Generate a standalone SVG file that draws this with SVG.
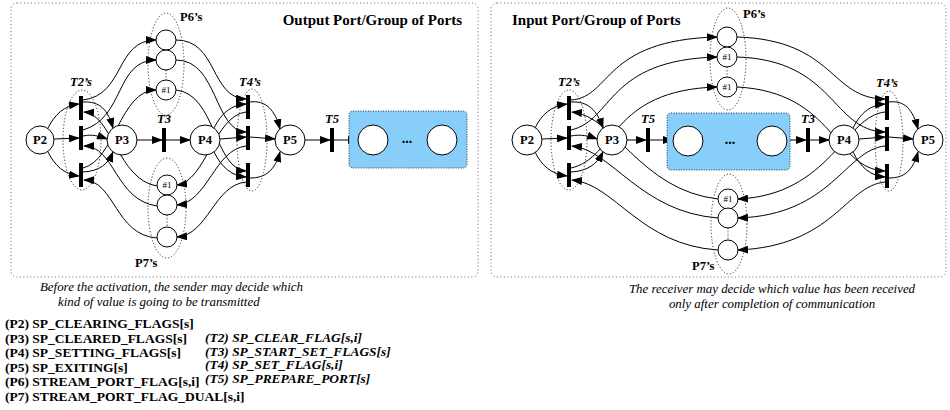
<svg xmlns="http://www.w3.org/2000/svg" width="950" height="410" viewBox="0 0 950 410">
<style>
.panel{fill:none;stroke:#666;stroke-width:1;stroke-dasharray:1,2.5}
.grp{fill:none;stroke:#333;stroke-width:1;stroke-dasharray:1.2,2}
.pl{fill:#fff;stroke:#000;stroke-width:1}
.bar{fill:#000}
.arc{fill:none;stroke:#000;stroke-width:1;marker-end:url(#ah)}
.box{fill:#87CEFA;stroke:#333;stroke-width:1;stroke-dasharray:1,1.5}
text{font-family:"Liberation Serif","Times New Roman",serif;fill:#000}
.pn{font-size:12.5px;font-weight:bold;text-anchor:middle}
.h1{font-size:9px;text-anchor:middle}
.tn{font-size:12.5px;font-weight:bold;font-style:italic;text-anchor:middle}
.gl{font-size:12.5px;font-weight:bold}
.ttl{font-size:15px;font-weight:bold}
.cap{font-size:12.9px;font-style:italic}
.lp{font-size:13.5px;font-weight:bold}
.lt{font-size:13.4px;font-weight:bold;font-style:italic}
.dots{font-size:14px;font-weight:bold;text-anchor:middle}
</style>
<defs>
<marker id="ah" markerUnits="userSpaceOnUse" markerWidth="11" markerHeight="8" refX="10" refY="4" orient="auto">
<path d="M0,0 L11,4 L0,8 z" fill="#000"/>
</marker>
</defs>

<rect class="panel" x="11" y="3" width="467" height="274" rx="6"/>
<rect class="panel" x="491" y="3" width="455" height="274" rx="6"/>
<text class="ttl" x="462" y="25" text-anchor="end">Output Port/Group of Ports</text>
<text class="ttl" x="512" y="25">Input Port/Group of Ports</text>

<!-- ===== LEFT NET (Output) ===== -->
<g id="connectors-left">
<path class="arc" d="M48,128 C55,114 64,106 79,104"/>
<path class="arc" d="M54,139 L79,138"/>
<path class="arc" d="M48,152 C55,166 64,174 79,176"/>
<path class="arc" d="M83,102 C100,101 108,110 113,128"/>
<path class="arc" d="M83,136 C92,134 99,136 107,139"/>
<path class="arc" d="M83,172 C100,171 108,164 113,152"/>
<path class="arc" d="M83,100 C125,95 115,40 156,40"/>
<path class="arc" d="M83,130 C125,118 115,60 156,60"/>
<path class="arc" d="M83,168 C115,160 120,90 156,90"/>
<path class="arc" d="M157,186 C118,180 112,114 84,112"/>
<path class="arc" d="M157,206 C115,200 115,146 84,146"/>
<path class="arc" d="M157,238 C115,235 115,181 84,180"/>
<path class="arc" d="M137,140 L162,140"/>
<path class="arc" d="M166,140 L190,140"/>
<path class="arc" d="M214,128 C222,112 232,105 246,104"/>
<path class="arc" d="M220,139 L246,137"/>
<path class="arc" d="M214,152 C222,168 232,176 246,177"/>
<path class="arc" d="M176,40 C218,40 210,98 246,99"/>
<path class="arc" d="M176,60 C218,60 214,131 246,132"/>
<path class="arc" d="M176,90 C216,94 214,169 246,171"/>
<path class="arc" d="M246,112 C214,116 206,181 177,185"/>
<path class="arc" d="M246,146 C214,150 208,202 177,205"/>
<path class="arc" d="M246,182 C214,185 208,235 177,237"/>
<path class="arc" d="M250,102 C266,100 275,110 280,129"/>
<path class="arc" d="M250,137 L275,139"/>
<path class="arc" d="M250,178 C266,178 275,170 280,152"/>
<path class="arc" d="M305,140 L330,140"/>
<path class="arc" d="M334,140 L358,140"/>
</g>

<g id="T2s-left">
<ellipse class="grp" cx="82" cy="140" rx="19" ry="50"/>
<rect class="bar" x="79" y="96" width="4" height="24"/>
<rect class="bar" x="79" y="126" width="4" height="24"/>
<rect class="bar" x="79" y="163" width="4" height="24"/>
<text class="tn" x="81" y="86">T2’s</text>
</g>
<g id="T4s-left">
<ellipse class="grp" cx="252" cy="140" rx="15" ry="51"/>
<rect class="bar" x="246" y="95" width="4" height="24"/>
<rect class="bar" x="246" y="126" width="4" height="24"/>
<rect class="bar" x="246" y="163" width="4" height="24"/>
<text class="tn" x="250" y="86">T4’s</text>
</g>
<g id="P2-left"><circle class="pl" cx="40" cy="140" r="14"/><text class="pn" x="40" y="144">P2</text></g>
<g id="P3-left"><circle class="pl" cx="122" cy="140" r="15"/><text class="pn" x="122" y="144">P3</text></g>
<g id="T3-left"><rect class="bar" x="162" y="128" width="4" height="24"/><text class="tn" x="164" y="123">T3</text></g>
<g id="P4-left"><circle class="pl" cx="205" cy="140" r="15"/><text class="pn" x="205" y="144">P4</text></g>
<g id="P5-left"><circle class="pl" cx="290" cy="140" r="15"/><text class="pn" x="290" y="144">P5</text></g>
<g id="T5-left"><rect class="bar" x="330" y="128" width="4" height="24"/><text class="tn" x="332" y="123">T5</text></g>
<g id="port-left">
<rect class="box" x="349" y="111" width="118" height="57" rx="4"/>
<circle class="pl" cx="373" cy="140" r="15"/>
<circle class="pl" cx="442" cy="140" r="15"/>
<text class="dots" x="407" y="143">...</text>
</g>
<g id="P6s-left">
<ellipse class="grp" cx="166" cy="64" rx="18" ry="51"/>
<line class="grp" x1="166" y1="70" x2="166" y2="80"/>
<circle class="pl" cx="166" cy="40" r="10"/>
<circle class="pl" cx="166" cy="60" r="10"/>
<circle class="pl" cx="166" cy="90" r="10"/><text class="h1" x="166" y="93">#1</text>
<text class="gl" x="180" y="21">P6’s</text>
</g>
<g id="P7s-left">
<ellipse class="grp" cx="167" cy="208" rx="19" ry="50"/>
<line class="grp" x1="167" y1="215" x2="167" y2="227"/>
<circle class="pl" cx="167" cy="185" r="10"/><text class="h1" x="167" y="188">#1</text>
<circle class="pl" cx="167" cy="205" r="10"/>
<circle class="pl" cx="167" cy="237" r="10"/>
<text class="gl" x="135" y="267">P7’s</text>
</g>

<!-- ===== RIGHT NET (Input) ===== -->
<g id="connectors-right">
<path class="arc" d="M535,128 C542,114 551,106 567,104"/>
<path class="arc" d="M542,139 L567,138"/>
<path class="arc" d="M535,152 C542,166 551,174 567,176"/>
<path class="arc" d="M571,102 C588,101 597,110 603,128"/>
<path class="arc" d="M571,136 C581,134 589,136 597,139"/>
<path class="arc" d="M571,172 C588,171 597,164 603,152"/>
<path class="arc" d="M571,100 C612,97 602,40 717,37"/>
<path class="arc" d="M571,130 C614,120 606,60 717,57"/>
<path class="arc" d="M571,168 C616,158 610,90 717,87"/>
<path class="arc" d="M718,199 C640,190 615,116 572,112"/>
<path class="arc" d="M718,218 C640,212 612,150 572,146"/>
<path class="arc" d="M718,250 C640,245 615,184 572,180"/>
<path class="arc" d="M627,140 L646,140"/>
<path class="arc" d="M650,140 L673,140"/>
<path class="arc" d="M787,140 L806,140"/>
<path class="arc" d="M810,140 L829,140"/>
<path class="arc" d="M853,128 C861,112 871,105 885,104"/>
<path class="arc" d="M859,139 L885,137"/>
<path class="arc" d="M853,152 C861,168 871,176 885,177"/>
<path class="arc" d="M737,37 C835,40 830,99 885,99"/>
<path class="arc" d="M737,57 C835,60 832,131 885,132"/>
<path class="arc" d="M737,87 C835,92 834,169 885,171"/>
<path class="arc" d="M885,112 C845,116 830,195 738,199"/>
<path class="arc" d="M885,146 C845,150 832,215 738,218"/>
<path class="arc" d="M885,182 C845,186 834,246 738,250"/>
<path class="arc" d="M889,102 C905,100 913,110 918,129"/>
<path class="arc" d="M889,137 L913,139"/>
<path class="arc" d="M889,178 C905,178 913,170 918,152"/>
</g>

<g id="T2s-right">
<ellipse class="grp" cx="569" cy="140" rx="18" ry="50"/>
<rect class="bar" x="567" y="96" width="4" height="24"/>
<rect class="bar" x="567" y="126" width="4" height="24"/>
<rect class="bar" x="567" y="163" width="4" height="24"/>
<text class="tn" x="569" y="86">T2’s</text>
</g>
<g id="T4s-right">
<ellipse class="grp" cx="889" cy="141" rx="14" ry="50"/>
<rect class="bar" x="885" y="96" width="4" height="24"/>
<rect class="bar" x="885" y="127" width="4" height="24"/>
<rect class="bar" x="885" y="164" width="4" height="24"/>
<text class="tn" x="887" y="87">T4’s</text>
</g>
<g id="P2-right"><circle class="pl" cx="527" cy="140" r="15"/><text class="pn" x="527" y="144">P2</text></g>
<g id="P3-right"><circle class="pl" cx="612" cy="140" r="15"/><text class="pn" x="612" y="144">P3</text></g>
<g id="T5-right"><rect class="bar" x="646" y="128" width="4" height="24"/><text class="tn" x="648" y="123">T5</text></g>
<g id="port-right">
<rect class="box" x="667" y="113" width="123" height="57" rx="4"/>
<circle class="pl" cx="688" cy="141" r="15"/>
<circle class="pl" cx="772" cy="141" r="15"/>
<text class="dots" x="730" y="144">...</text>
</g>
<g id="T3-right"><rect class="bar" x="806" y="128" width="4" height="24"/><text class="tn" x="808" y="123">T3</text></g>
<g id="P4-right"><circle class="pl" cx="844" cy="140" r="15"/><text class="pn" x="844" y="144">P4</text></g>
<g id="P5-right"><circle class="pl" cx="928" cy="140" r="15"/><text class="pn" x="928" y="144">P5</text></g>
<g id="P6s-right">
<ellipse class="grp" cx="728" cy="59" rx="18" ry="51"/>
<line class="grp" x1="727" y1="67" x2="727" y2="77"/>
<circle class="pl" cx="727" cy="37" r="10"/>
<circle class="pl" cx="727" cy="57" r="10"/><text class="h1" x="727" y="60">#1</text>
<circle class="pl" cx="727" cy="87" r="10"/><text class="h1" x="727" y="90">#1</text>
<text class="gl" x="743" y="18">P6’s</text>
</g>
<g id="P7s-right">
<ellipse class="grp" cx="729" cy="224" rx="18" ry="50"/>
<line class="grp" x1="728" y1="228" x2="728" y2="240"/>
<circle class="pl" cx="728" cy="199" r="10"/><text class="h1" x="728" y="202">#1</text>
<circle class="pl" cx="728" cy="218" r="10"/>
<circle class="pl" cx="728" cy="250" r="10"/>
<text class="gl" x="692" y="270">P7’s</text>
</g>

<!-- captions -->
<text class="cap" x="40" y="291">Before the activation, the sender may decide which</text>
<text class="cap" x="58" y="306">kind of value is going to be transmitted</text>
<text class="cap" x="772" y="293" text-anchor="middle">The receiver may decide which value has been received</text>
<text class="cap" x="772" y="308" text-anchor="middle">only after completion of communication</text>

<!-- legend -->
<text class="lp" x="5" y="328">(P2) SP_CLEARING_FLAGS[s]</text>
<text class="lp" x="5" y="342.5">(P3) SP_CLEARED_FLAGS[s]</text>
<text class="lp" x="5" y="357">(P4) SP_SETTING_FLAGS[s]</text>
<text class="lp" x="5" y="371.5">(P5) SP_EXITING[s]</text>
<text class="lp" x="5" y="386">(P6) STREAM_PORT_FLAG[s,i]</text>
<text class="lp" x="5" y="400.5">(P7) STREAM_PORT_FLAG_DUAL[s,i]</text>
<text class="lt" x="205" y="342">(T2) SP_CLEAR_FLAG[s,i]</text>
<text class="lt" x="205" y="355.5">(T3) SP_START_SET_FLAGS[s]</text>
<text class="lt" x="205" y="369">(T4) SP_SET_FLAG[s,i]</text>
<text class="lt" x="205" y="382.5">(T5) SP_PREPARE_PORT[s]</text>
</svg>
